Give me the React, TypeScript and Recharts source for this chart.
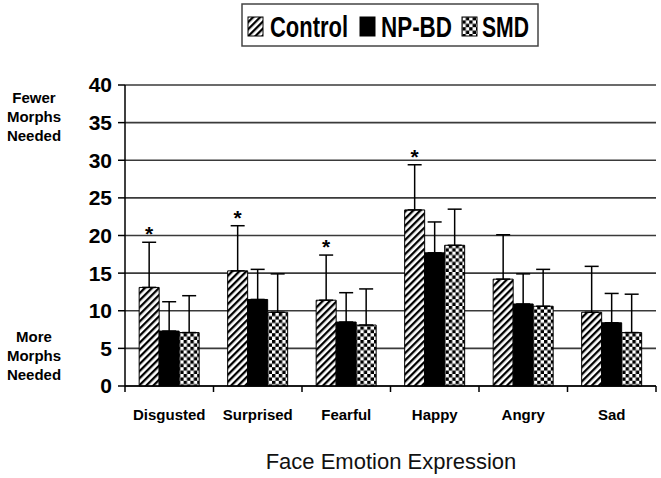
import { BarChart, Bar, XAxis, YAxis, CartesianGrid, ErrorBar, LabelList } from 'recharts'

const emotions = ['Disgusted', 'Surprised', 'Fearful', 'Happy', 'Angry', 'Sad']
const controlMean = [13.1, 15.3, 11.4, 23.4, 14.2, 9.8]
const controlErr = [6.0, 6.0, 6.0, 6.0, 5.9, 6.1]
const npbdMean = [7.3, 11.5, 8.5, 17.7, 10.9, 8.4]
const npbdErr = [3.9, 4.0, 3.9, 4.1, 4.0, 3.9]
const smdMean = [7.1, 9.8, 8.1, 18.7, 10.6, 7.1]
const smdErr = [4.9, 5.1, 4.8, 4.8, 4.9, 5.1]
const significant = [true, true, true, true, false, false]
const yTicks = [0, 5, 10, 15, 20, 25, 30, 35, 40]
const seriesNames = ['Control', 'NP-BD', 'SMD']
const topLabel = ['Fewer', 'Morphs', 'Needed']
const bottomLabel = ['More', 'Morphs', 'Needed']
const xTitle = 'Face Emotion Expression'

const FONT = '"Liberation Sans", Arial, Helvetica, sans-serif'
const W = 661
const H = 478
const M = { top: 85, right: 5, bottom: 0, left: 0 }
const Y_W = 125
const X_H = 92
const BAND_HALF = (W - M.right - Y_W) / emotions.length / 2

const data = emotions.map((e, i) => ({
  emotion: e,
  control: controlMean[i],
  controlErr: [0, controlErr[i]],
  npbd: npbdMean[i],
  npbdErr: [0, npbdErr[i]],
  smd: smdMean[i],
  smdErr: [0, smdErr[i]],
}))

const fills = ['url(#hatch)', '#000', 'url(#checker)']

const Patterns = () => (
  <defs>
    <pattern id="hatch" width="5" height="5" patternUnits="userSpaceOnUse" patternTransform="rotate(45)">
      <rect x="0" y="0" width="5" height="5" fill="#fff" />
      <rect x="0" y="0" width="2.3" height="5" fill="#000" />
    </pattern>
    <pattern id="checker" width="6.8" height="6.8" patternUnits="userSpaceOnUse">
      <rect x="0" y="0" width="6.8" height="6.8" fill="#fff" />
      <rect x="0" y="0" width="3.4" height="3.4" fill="#000" />
      <rect x="3.4" y="3.4" width="3.4" height="3.4" fill="#000" />
    </pattern>
  </defs>
)

// legend drawn inside the svg so it doesn't push the plot around
const LegendBox = () => {
  const items = [
    { sw: 248, tx: 270, tw: 78 },
    { sw: 360, tx: 381, tw: 71 },
    { sw: 462, tx: 482, tw: 47 },
  ]
  return (
    <g>
      <rect x={242} y={4} width={296} height={42} fill="#fff" stroke="#444" strokeWidth={1.5} />
      {items.map((it, i) => (
        <g key={seriesNames[i]}>
          <rect x={it.sw} y={17} width={15} height={19} fill={fills[i]} stroke="#000" strokeWidth={1} />
          <text
            x={it.tx} y={37} fontSize={29} fontWeight="bold" fontFamily={FONT} fill="#000"
            textLength={it.tw} lengthAdjust="spacingAndGlyphs"
          >
            {seriesNames[i]}
          </text>
        </g>
      ))}
    </g>
  )
}

const SideLabels = () => (
  <g fontFamily={FONT} fontWeight="bold" fontSize={15} fill="#000" textAnchor="middle">
    {topLabel.map((t, i) => (
      <text key={'t' + i} x={34} y={103 + i * 19}>{t}</text>
    ))}
    {bottomLabel.map((t, i) => (
      <text key={'b' + i} x={34} y={341.5 + i * 19}>{t}</text>
    ))}
    <text x={391} y={469} fontSize={22} fontWeight="normal" fill="#111">{xTitle}</text>
  </g>
)

const XTick = ({ x, y, payload, index }: any) => {
  const half = payload?.offset || BAND_HALF
  const last = index === emotions.length - 1
  return (
    <g>
      <line x1={x - half} x2={x - half} y1={y} y2={y + 6} stroke="#000" strokeWidth={1.5} />
      {last && <line x1={x + half} x2={x + half} y1={y} y2={y + 6} stroke="#000" strokeWidth={1.5} />}
      <text x={x} y={y + 34} textAnchor="middle" fontSize={15} fontWeight="bold" fontFamily={FONT} fill="#000">
        {payload.value}
      </text>
    </g>
  )
}

const Star = (props: any) => {
  const { x, y, width, height, index } = props
  if (index == null || !significant[index]) return null
  const perUnit = height / controlMean[index]
  const top = y - controlErr[index] * perUnit
  return (
    <text x={x + width / 2} y={top - 1} textAnchor="middle" fontSize={21} fontWeight="bold" fontFamily={FONT} fill="#000">
      *
    </text>
  )
}

export default function App() {
  return (
    <div style={{ position: 'absolute', left: 0, top: 0, width: W, height: H, background: '#fff' }}>
      <BarChart width={W} height={H} data={data} margin={M} barCategoryGap="16%" barGap={0}>
        <Patterns />
        <CartesianGrid vertical={false} stroke="#3a3a3a" strokeWidth={1.6} />
        <XAxis
          dataKey="emotion" interval={0} height={X_H} tickSize={0} tickMargin={0}
          tickLine={false} axisLine={{ stroke: '#000', strokeWidth: 1.5 }} tick={<XTick />}
        />
        <YAxis
          domain={[0, 40]} ticks={yTicks} width={Y_W} tickSize={7} tickMargin={6}
          axisLine={{ stroke: '#000', strokeWidth: 1.5 }} tickLine={{ stroke: '#000', strokeWidth: 1.5 }}
          tick={{ fill: '#000', fontSize: 21, fontWeight: 'bold', fontFamily: FONT }}
        />
        <Bar dataKey="control" name="Control" fill={fills[0]} stroke="#000" strokeWidth={1} isAnimationActive={false}>
          <ErrorBar dataKey="controlErr" width={7} stroke="#000" strokeWidth={1.5} direction="y" isAnimationActive={false} />
          <LabelList dataKey="control" content={<Star />} />
        </Bar>
        <Bar dataKey="npbd" name="NP-BD" fill={fills[1]} stroke="#000" strokeWidth={1} isAnimationActive={false}>
          <ErrorBar dataKey="npbdErr" width={7} stroke="#000" strokeWidth={1.5} direction="y" isAnimationActive={false} />
        </Bar>
        <Bar dataKey="smd" name="SMD" fill={fills[2]} stroke="#000" strokeWidth={1} isAnimationActive={false}>
          <ErrorBar dataKey="smdErr" width={7} stroke="#000" strokeWidth={1.5} direction="y" isAnimationActive={false} />
        </Bar>
        <LegendBox />
        <SideLabels />
      </BarChart>
    </div>
  )
}
